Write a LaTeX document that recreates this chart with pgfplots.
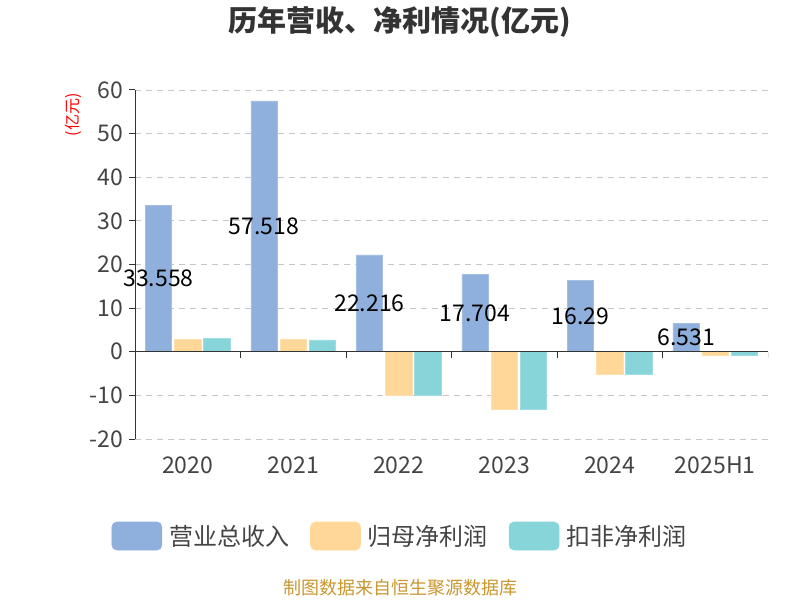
\documentclass[border=0pt]{standalone}
\usepackage{pgfplots}
\pgfplotsset{compat=1.18}
\usepackage{fontspec}
\setmainfont{Noto Sans CJK SC}
\definecolor{cRev}{HTML}{8FAFDD}
\definecolor{cNet}{HTML}{FFD899}
\definecolor{cDed}{HTML}{87D5D8}
\definecolor{cAxis}{HTML}{333333}
\definecolor{cText}{HTML}{444444}
\definecolor{cFoot}{HTML}{C9962F}
\begin{document}
\begin{tikzpicture}[x=1pt,y=1pt]
\useasboundingbox (0,0) rectangle (800,600);
\node[font=\fontsize{29}{32}\selectfont\bfseries, text=cAxis] at (400,578) {历年营收、净利情况(亿元)};
\node[font=\fontsize{16}{18}\selectfont, text=red, rotate=90] at (73,485) {(亿元)};
\node[font=\fontsize{18}{20}\selectfont, text=cFoot] at (400,12) {制图数据来自恒生聚源数据库};
\begin{axis}[
  at={(135pt,161pt)}, anchor=south west,
  scale only axis, width=633pt, height=349pt,
  xmin=-0.5, xmax=5.5, ymin=-20, ymax=60,
  ytick={-20,-10,0,10,20,30,40,50,60},
  xtick={0,1,2,3,4,5},
  xticklabels={2020,2021,2022,2023,2024,2025H1},
  /pgf/number format/assume math mode=true,
  tick label style={font=\fontsize{23}{25}\selectfont, text=cText},
  axis y line*=left, axis x line*=bottom,
  x axis line style={draw=none},
  y axis line style={draw=cAxis, line width=1pt},
  ytick style={draw=cAxis, line width=1pt},
  xtick style={draw=none},
  tick align=outside, major tick length=6pt,
  ymajorgrids, grid style={draw=gray!45, line width=0.8pt, dash pattern=on 6pt off 5pt},
  xticklabel style={yshift=-8pt},
  yticklabel style={xshift=-2pt},
  legend columns=3,
  legend style={at={(0.4186,-0.278)}, anchor=center, draw=none, fill=none,
    font=\fontsize{24}{26}\selectfont, text=cText,
    /tikz/every odd column/.append style={column sep=5pt},
    /tikz/every even column/.append style={column sep=19pt}},
]
\addplot[ybar, bar width=0.25, bar shift=-0.277, fill=cRev, draw=cRev!80!white, line width=0.6pt,
  point meta=explicit symbolic,
  visualization depends on={y \as \rawy},
  nodes near coords,
  every node near coord/.append style={anchor=center, text=black, font=\fontsize{23}{25}\selectfont, xshift=-29.2pt, yshift={-\rawy*2.18125}},
  legend image code/.code={\fill[cRev, rounded corners=5pt] (0pt,-14pt) rectangle (50pt,14pt);}]
  coordinates {(0,33.558) [33.558] (1,57.518) [57.518] (2,22.216) [22.216] (3,17.704) [17.704] (4,16.29) [16.29] (5,6.531) [6.531]};
\addlegendentry{营业总收入}
\addplot[ybar, bar width=0.25, bar shift=0, fill=cNet, draw=cNet!80!white, line width=0.6pt,
  legend image code/.code={\fill[cNet, rounded corners=5pt] (0pt,-14pt) rectangle (50pt,14pt);}]
  coordinates {(0,2.9) (1,2.9) (2,-9.9) (3,-13.2) (4,-5.1) (5,-0.76)};
\addlegendentry{归母净利润}
\addplot[ybar, bar width=0.25, bar shift=0.277, fill=cDed, draw=cDed!80!white, line width=0.6pt,
  legend image code/.code={\fill[cDed, rounded corners=5pt] (0pt,-14pt) rectangle (50pt,14pt);}]
  coordinates {(0,3.0) (1,2.7) (2,-10.0) (3,-13.1) (4,-5.1) (5,-0.85)};
\addlegendentry{扣非净利润}
\draw[cAxis, line width=1pt] (axis cs:-0.5,0) -- (axis cs:5.5,0);
\pgfplotsinvokeforeach{0.5,1.5,2.5,3.5,4.5,5.5}{\draw[cAxis, line width=1pt] (axis cs:#1,0) -- ++(0pt,-6pt);}
\end{axis}
\end{tikzpicture}
\end{document}
